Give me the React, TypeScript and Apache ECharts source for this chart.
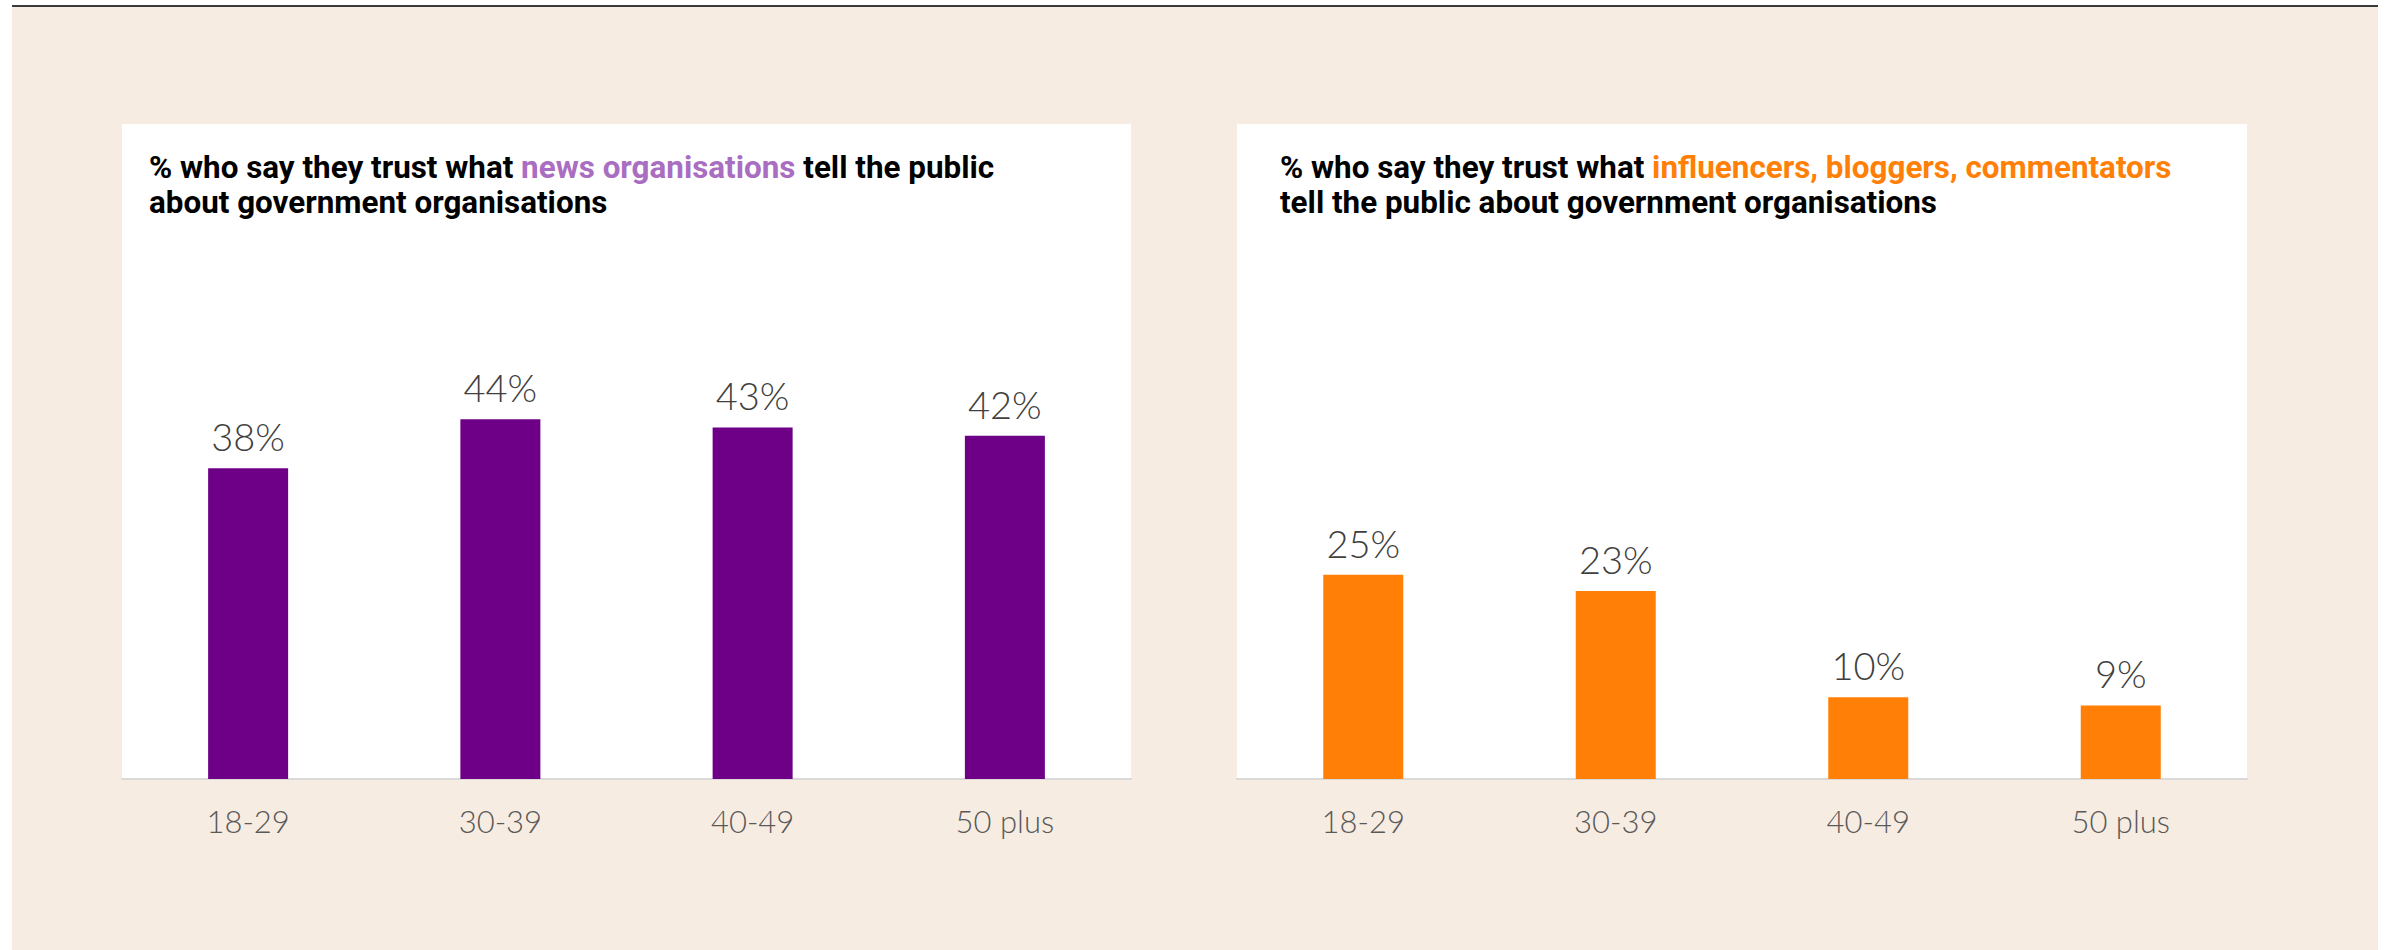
import React, { useEffect, useRef } from "react";
import * as echarts from "echarts";

// Age groups shown on both panels
const ageGroups = ["18-29", "30-39", "40-49", "50 plus"];
// % who trust what news organisations tell the public about government organisations
const newsTrust = [38, 44, 43, 42];
// % who trust what influencers, bloggers, commentators tell the public
const influencerTrust = [25, 23, 10, 9];

const PURPLE = "#6e0087";
const PURPLE_LIGHT = "#a96dc1";
const ORANGE = "#ff7f07";
const BEIGE = "#f7ece2";

const W = 2394;
const H = 950;

export default function App() {
  const ref = useRef<HTMLDivElement>(null);

  useEffect(() => {
    document.body.style.margin = "0";
    if (!ref.current) return;
    const chart = echarts.init(ref.current, undefined, { renderer: "svg" });

    const axisLabel = {
      color: "#595959",
      fontFamily: "Lato",
      fontWeight: 300,
      fontSize: 31,
      margin: 26,
    };
    const valueLabel = {
      show: true,
      position: "top",
      distance: 13,
      color: "#404040",
      fontFamily: "Lato",
      fontWeight: 300,
      fontSize: 38,
      formatter: "{c}%",
    };
    const titleFont = { fontFamily: "Roboto", fontWeight: "bold", fontSize: 31.4, lineHeight: 35 };
    const titleRich = {
      b: { ...titleFont, color: "#000" },
      p: { ...titleFont, color: PURPLE_LIGHT },
      o: { ...titleFont, color: ORANGE },
    };

    const xAxisBase = (gridIndex: number) => ({
      type: "category",
      gridIndex,
      data: ageGroups,
      axisLine: { show: true, lineStyle: { color: "#d9d9d9", width: 2 } },
      axisTick: { show: false },
      axisLabel,
    });
    const yAxisBase = (gridIndex: number) => ({
      type: "value",
      gridIndex,
      min: 0,
      max: 80,
      show: false,
      splitLine: { show: false },
    });

    chart.setOption({
      animation: false,
      backgroundColor: "#ffffff",
      graphic: [
        { type: "rect", z: -10, shape: { x: 12, y: 7, width: 2366, height: H - 7 }, style: { fill: BEIGE } },
        { type: "rect", z: -10, shape: { x: 12, y: 5, width: 2366, height: 2 }, style: { fill: "#3a3a3a" } },
        { type: "rect", z: -10, shape: { x: 122, y: 124, width: 1009, height: 655 }, style: { fill: "#ffffff" } },
        { type: "rect", z: -10, shape: { x: 1237, y: 124, width: 1010, height: 655 }, style: { fill: "#ffffff" } },
      ],
      title: [
        {
          left: 149,
          top: 150,
          padding: 0,
          text: "{b|% who say they trust what }{p|news organisations}{b| tell the public}\n{b|about government organisations}",
          textStyle: { rich: titleRich },
        },
        {
          left: 1280,
          top: 150,
          padding: 0,
          text: "{b|% who say they trust what }{o|influencers, bloggers, commentators}\n{b|tell the public about government organisations}",
          textStyle: { rich: titleRich },
        },
      ],
      grid: [
        { left: 122, width: 1009, top: 125, height: 654 },
        { left: 1237, width: 1010, top: 125, height: 654 },
      ],
      xAxis: [xAxisBase(0), xAxisBase(1)],
      yAxis: [yAxisBase(0), yAxisBase(1)],
      series: [
        {
          type: "bar",
          xAxisIndex: 0,
          yAxisIndex: 0,
          data: newsTrust,
          barWidth: 80,
          itemStyle: { color: PURPLE },
          label: valueLabel,
        },
        {
          type: "bar",
          xAxisIndex: 1,
          yAxisIndex: 1,
          data: influencerTrust,
          barWidth: 80,
          itemStyle: { color: ORANGE },
          label: valueLabel,
        },
      ],
    });

    return () => chart.dispose();
  }, []);

  return <div ref={ref} style={{ width: W, height: H }} />;
}
